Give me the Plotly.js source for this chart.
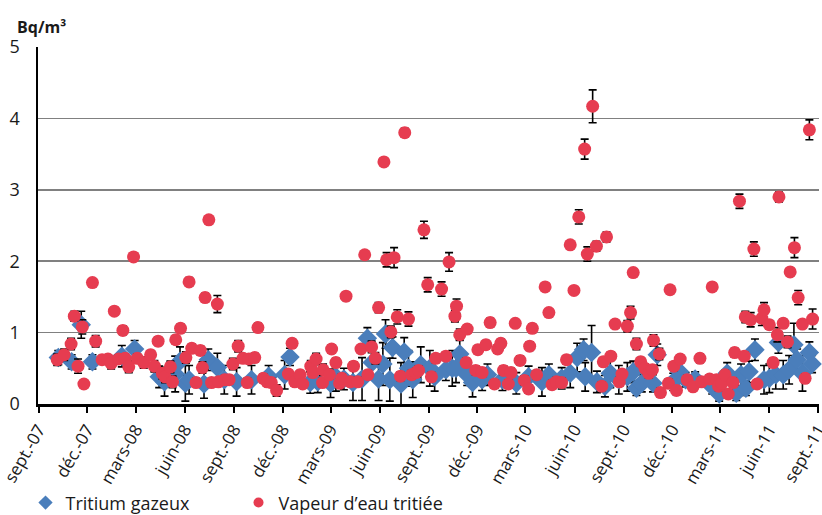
<!DOCTYPE html>
<html><head><meta charset="utf-8">
<script src="https://cdn.plot.ly/plotly-3.0.1.min.js"></script>
<style>html,body{margin:0;padding:0;background:#fff;}#chart{width:822px;height:515px;}</style>
</head><body><div id="chart"></div>
<script>
const tickDates = ['2007-09-01','2007-12-01','2008-03-01','2008-06-01','2008-09-01','2008-12-01','2009-03-01','2009-06-01','2009-09-01','2009-12-01','2010-03-01','2010-06-01','2010-09-01','2010-12-01','2011-03-01','2011-06-01','2011-09-01'];
const tickLabels = ['sept.-07','déc.-07','mars-08','juin-08','sept.-08','déc.-08','mars-09','juin-09','sept.-09','déc.-09','mars-10','juin-10','sept.-10','déc.-10','mars-11','juin-11','sept.-11'];

const redDates = ['2007-10-06','2007-10-19','2007-11-01','2007-11-07','2007-11-14','2007-11-22','2007-11-25','2007-12-11','2007-12-17','2007-12-29','2008-01-09','2008-01-15','2008-01-21','2008-01-29','2008-02-06','2008-02-10','2008-02-17','2008-02-26','2008-03-04','2008-03-16','2008-03-29','2008-04-05','2008-04-12','2008-04-20','2008-04-25','2008-05-05','2008-05-09','2008-05-15','2008-05-24','2008-06-03','2008-06-09','2008-06-14','2008-06-22','2008-06-30','2008-07-04','2008-07-09','2008-07-16','2008-07-21','2008-08-01','2008-08-03','2008-08-15','2008-08-23','2008-08-30','2008-09-09','2008-09-18','2008-09-26','2008-09-29','2008-10-10','2008-10-16','2008-10-26','2008-11-02','2008-11-10','2008-11-20','2008-12-12','2008-12-19','2008-12-24','2009-01-03','2009-01-08','2009-01-23','2009-01-27','2009-02-02','2009-02-14','2009-02-15','2009-02-27','2009-03-03','2009-03-11','2009-03-18','2009-03-22','2009-03-30','2009-04-07','2009-04-13','2009-04-21','2009-04-27','2009-05-04','2009-05-10','2009-05-17','2009-05-24','2009-05-30','2009-06-09','2009-06-14','2009-06-22','2009-06-28','2009-07-04','2009-07-10','2009-07-18','2009-07-25','2009-07-31','2009-08-08','2009-08-13','2009-08-23','2009-08-30','2009-09-06','2009-09-14','2009-09-25','2009-10-03','2009-10-09','2009-10-20','2009-10-23','2009-10-29','2009-11-10','2009-11-12','2009-11-28','2009-12-02','2009-12-10','2009-12-17','2009-12-25','2010-01-02','2010-01-08','2010-01-14','2010-01-19','2010-01-28','2010-02-02','2010-02-10','2010-02-19','2010-02-27','2010-03-07','2010-03-09','2010-03-14','2010-03-22','2010-04-07','2010-04-14','2010-04-20','2010-04-28','2010-05-08','2010-05-17','2010-05-24','2010-05-31','2010-06-09','2010-06-20','2010-06-25','2010-07-05','2010-07-12','2010-07-22','2010-07-25','2010-07-31','2010-08-08','2010-08-16','2010-08-24','2010-08-29','2010-09-08','2010-09-14','2010-09-19','2010-09-25','2010-10-03','2010-10-11','2010-10-18','2010-10-25','2010-10-27','2010-11-07','2010-11-09','2010-11-24','2010-11-27','2010-12-04','2010-12-09','2010-12-16','2010-12-29','2011-01-09','2011-01-22','2011-01-25','2011-02-09','2011-02-14','2011-02-22','2011-02-26','2011-03-04','2011-03-10','2011-03-16','2011-03-25','2011-03-28','2011-04-06','2011-04-15','2011-04-17','2011-04-27','2011-05-03','2011-05-09','2011-05-18','2011-05-22','2011-06-01','2011-06-08','2011-06-16','2011-06-19','2011-06-27','2011-07-05','2011-07-10','2011-07-18','2011-07-25','2011-08-02','2011-08-07','2011-08-15','2011-08-21'];
const redValues = [0.62,0.69,0.84,1.23,0.53,1.08,0.28,1.70,0.88,0.62,0.63,0.57,1.30,0.63,1.03,0.64,0.52,2.06,0.64,0.58,0.69,0.53,0.88,0.43,0.38,0.52,0.31,0.90,1.06,0.65,1.71,0.78,0.30,0.75,0.51,1.49,2.58,0.30,1.40,0.31,0.34,0.34,0.56,0.81,0.64,0.30,0.63,0.65,1.07,0.36,0.31,0.30,0.19,0.42,0.85,0.31,0.41,0.28,0.53,0.44,0.63,0.30,0.48,0.41,0.77,0.58,0.29,0.36,1.51,0.31,0.53,0.31,0.77,2.09,0.41,0.80,0.64,1.35,3.39,2.02,1.01,2.05,1.22,0.39,3.80,1.19,0.41,0.44,0.47,2.44,1.67,0.38,0.64,1.61,0.67,1.99,1.23,1.37,0.97,0.58,1.05,0.47,0.76,0.44,0.83,1.14,0.28,0.77,0.85,0.47,0.28,0.44,1.13,0.61,0.33,0.21,0.81,1.06,0.41,1.64,1.28,0.27,0.31,0.30,0.62,2.23,1.59,2.62,3.57,2.10,4.17,2.21,0.25,0.59,2.34,0.67,1.12,0.31,0.42,1.09,1.28,1.84,0.84,0.59,0.50,0.43,0.48,0.89,0.70,0.16,0.29,1.60,0.53,0.19,0.63,0.34,0.24,0.64,0.31,0.35,1.64,0.34,0.25,0.29,0.41,0.14,0.30,0.72,2.84,0.67,1.22,1.18,2.17,0.28,1.20,1.32,1.11,0.58,0.97,2.90,1.13,0.87,1.85,2.19,1.49,1.12,0.36,3.84,1.19];
const redErrors = [0.08,0.08,0.08,0.07,0.1,0.1,0.05,0.05,0.08,0.06,0.06,0.08,0.05,0.06,0.06,0.06,0.08,0.05,0.06,0.08,0.06,0.08,0.06,0.08,0.08,0.08,0.08,0.06,0.06,0.08,0.06,0.06,0.06,0.06,0.08,0.06,0.05,0.06,0.12,0.06,0.06,0.06,0.08,0.08,0.06,0.06,0.06,0.06,0.06,0.06,0.06,0.06,0.08,0.06,0.06,0.06,0.06,0.06,0.08,0.06,0.08,0.06,0.08,0.06,0.06,0.06,0.06,0.06,0.06,0.06,0.06,0.06,0.06,0.05,0.06,0.08,0.08,0.07,0.05,0.1,0.08,0.14,0.1,0.06,0.06,0.1,0.06,0.06,0.06,0.12,0.1,0.06,0.06,0.1,0.06,0.13,0.08,0.1,0.08,0.06,0.06,0.06,0.06,0.06,0.06,0.06,0.06,0.06,0.06,0.06,0.06,0.06,0.05,0.06,0.06,0.06,0.06,0.06,0.06,0.05,0.05,0.06,0.06,0.06,0.06,0.04,0.04,0.1,0.14,0.1,0.23,0.07,0.06,0.06,0.07,0.06,0.06,0.06,0.06,0.08,0.09,0.05,0.08,0.06,0.06,0.06,0.06,0.08,0.08,0.06,0.06,0.05,0.06,0.06,0.06,0.06,0.06,0.06,0.06,0.06,0.05,0.06,0.06,0.06,0.06,0.06,0.06,0.06,0.1,0.06,0.08,0.1,0.1,0.06,0.1,0.1,0.06,0.06,0.1,0.07,0.06,0.08,0.03,0.14,0.1,0.06,0.06,0.14,0.14];

const blueDates = ['2007-10-08','2007-11-02','2007-11-20','2007-12-11','2008-02-04','2008-02-28','2008-04-14','2008-04-24','2008-05-14','2008-05-23','2008-06-02','2008-06-09','2008-07-07','2008-07-15','2008-08-01','2008-08-14','2008-09-06','2008-10-04','2008-11-05','2008-12-05','2008-12-15','2009-01-22','2009-02-05','2009-03-01','2009-03-11','2009-03-26','2009-04-12','2009-04-29','2009-05-09','2009-05-18','2009-05-30','2009-06-07','2009-06-12','2009-06-20','2009-06-25','2009-07-11','2009-07-17','2009-07-25','2009-08-02','2009-08-17','2009-09-03','2009-09-12','2009-10-03','2009-10-15','2009-10-22','2009-10-29','2009-11-12','2009-11-22','2009-12-10','2009-12-20','2010-01-17','2010-02-12','2010-03-07','2010-04-01','2010-04-14','2010-05-08','2010-05-24','2010-06-06','2010-06-18','2010-06-21','2010-07-03','2010-07-13','2010-07-28','2010-08-07','2010-08-23','2010-09-08','2010-09-19','2010-09-25','2010-10-05','2010-10-26','2010-11-03','2010-12-03','2010-12-15','2010-12-26','2011-01-13','2011-02-14','2011-02-27','2011-03-14','2011-03-31','2011-04-09','2011-04-18','2011-04-24','2011-05-05','2011-05-22','2011-06-01','2011-06-13','2011-06-18','2011-06-27','2011-07-08','2011-07-17','2011-07-23','2011-08-02','2011-08-15','2011-08-20'];
const blueValues = [0.65,0.59,1.11,0.59,0.67,0.77,0.38,0.31,0.42,0.60,0.29,0.34,0.28,0.62,0.51,0.34,0.31,0.34,0.39,0.41,0.66,0.30,0.31,0.29,0.38,0.35,0.30,0.35,0.92,0.58,0.35,0.56,0.98,0.34,0.79,0.28,0.73,0.50,0.34,0.55,0.50,0.38,0.48,0.50,0.50,0.70,0.41,0.30,0.34,0.41,0.34,0.29,0.38,0.31,0.41,0.36,0.43,0.65,0.76,0.38,0.72,0.31,0.25,0.43,0.34,0.38,0.45,0.22,0.29,0.29,0.69,0.31,0.45,0.34,0.35,0.24,0.14,0.43,0.15,0.41,0.22,0.45,0.76,0.34,0.36,0.41,0.86,0.41,0.48,0.83,0.62,0.43,0.72,0.56];
const blueErrors = [0.1,0.1,0.19,0.1,0.15,0.12,0.15,0.2,0.25,0.2,0.25,0.2,0.2,0.15,0.2,0.2,0.2,0.2,0.15,0.2,0.12,0.15,0.15,0.2,0.2,0.15,0.25,0.3,0.15,0.2,0.3,0.3,0.2,0.3,0.15,0.3,0.2,0.25,0.25,0.25,0.25,0.2,0.15,0.25,0.2,0.2,0.15,0.2,0.15,0.15,0.15,0.15,0.15,0.2,0.15,0.15,0.2,0.2,0.15,0.2,0.38,0.15,0.15,0.2,0.2,0.2,0.15,0.1,0.12,0.12,0.15,0.12,0.15,0.1,0.1,0.1,0.1,0.15,0.1,0.15,0.1,0.15,0.15,0.2,0.2,0.2,0.15,0.2,0.2,0.3,0.15,0.25,0.15,0.12];

const seriesNames = ['Tritium gazeux', 'Vapeur d\u2019eau tritiée'];
const BLUE = '#4a7ebb', RED = '#e63c50';
const FONT = 'Open Sans, Noto Sans, sans-serif';

const errStyle = arr => ({type:'data', array:arr, symmetric:true, visible:true, color:'#000', thickness:1.6, width:4});

const traces = [
  {x: blueDates, y: blueValues, type:'scatter', mode:'markers', name: seriesNames[0], showlegend:false,
   marker:{symbol:'diamond', size:15, color:BLUE}, error_y: errStyle(blueErrors), cliponaxis:false},
  {x: redDates, y: redValues, type:'scatter', mode:'markers', name: seriesNames[1], showlegend:false,
   marker:{symbol:'circle', size:13, color:RED}, error_y: errStyle(redErrors), cliponaxis:false},
  {x:[null], y:[null], type:'scatter', mode:'markers', name: seriesNames[0], marker:{symbol:'diamond', size:11, color:BLUE}},
  {x:[null], y:[null], type:'scatter', mode:'markers', name: seriesNames[1], marker:{symbol:'circle', size:10, color:RED}}
];

const layout = {
  width:822, height:515,
  margin:{l:38, r:3, t:47, b:111, autoexpand:false},
  paper_bgcolor:'#fff', plot_bgcolor:'#fff',
  font:{family:FONT, color:'#1a1a1a', size:15},
  xaxis:{type:'date', range:['2007-08-31','2011-09-02'], tickmode:'array', tickvals:tickDates, ticktext:tickLabels,
    tickangle:-60, ticks:'outside', ticklen:6, tickwidth:2, tickcolor:'#000', showgrid:false, zeroline:false,
    showline:true, linecolor:'#000', linewidth:3, tickfont:{size:17, family:FONT, color:'#1a1a1a'},
    ticklabeloverflow:'allow', fixedrange:true},
  yaxis:{range:[0,5], tickvals:[0,1,2,3,4,5], ticks:'', showgrid:true, gridcolor:'#808080', gridwidth:1.5,
    zeroline:false, showline:true, linecolor:'#000', linewidth:2.5, ticklabelstandoff:12,
    tickfont:{size:18, family:FONT, color:'#1a1a1a'}, fixedrange:true},
  legend:{orientation:'h', x:-0.016, xanchor:'left', y:-0.277, yanchor:'middle', font:{size:18, family:FONT, color:'#1a1a1a'},
    entrywidth:168, entrywidthmode:'pixels', bgcolor:'rgba(0,0,0,0)', itemwidth:30},
  annotations:[{xref:'paper', yref:'paper', x:-0.03, y:1.056, xanchor:'left', yanchor:'middle', showarrow:false,
    text:'<b>Bq/m³</b>', font:{size:16, family:FONT, color:'#1a1a1a'}}],
  showlegend:true
};

Plotly.newPlot('chart', traces, layout, {displayModeBar:false, staticPlot:true});
</script></body></html>
